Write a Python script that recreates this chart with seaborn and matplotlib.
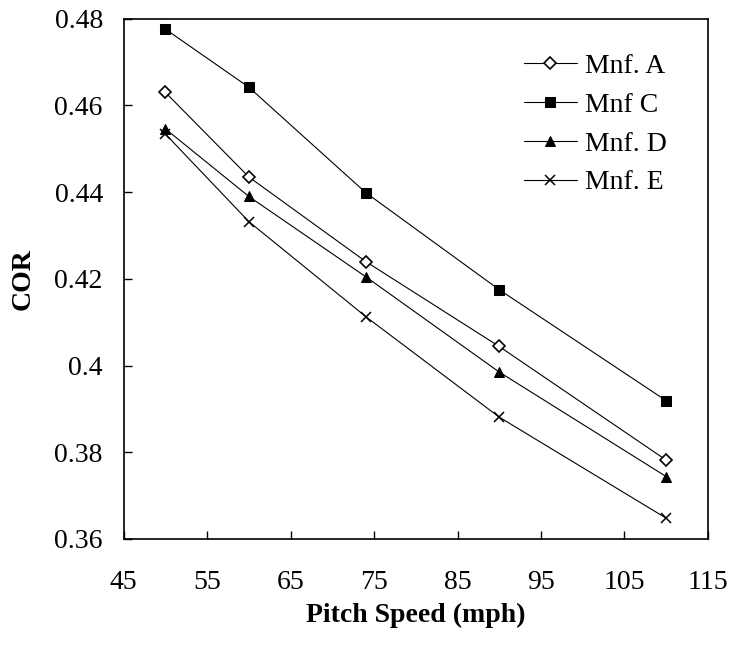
import matplotlib
matplotlib.use("Agg")
import matplotlib.pyplot as plt
import seaborn as sns
import pandas as pd
from matplotlib.ticker import FuncFormatter

speeds = [50, 60, 74, 90, 110]
mnf_a = [0.463, 0.4435, 0.424, 0.4044, 0.3782]
mnf_c = [0.4776, 0.4642, 0.4399, 0.4175, 0.3919]
mnf_d = [0.4546, 0.439, 0.4205, 0.3985, 0.3744]
mnf_e = [0.4534, 0.4332, 0.4113, 0.3881, 0.3648]
labels = ["Mnf. A", "Mnf C", "Mnf. D", "Mnf. E"]
x_ticks = [45, 55, 65, 75, 85, 95, 105, 115]
y_ticks = [0.36, 0.38, 0.40, 0.42, 0.44, 0.46, 0.48]

sns.set_theme(style="ticks")
plt.rcParams["font.family"] = ["Liberation Serif", "DejaVu Serif"]
plt.rcParams["text.color"] = "black"
plt.rcParams["axes.labelcolor"] = "black"
plt.rcParams["xtick.color"] = "black"
plt.rcParams["ytick.color"] = "black"

fig = plt.figure(figsize=(7.32, 6.47), dpi=100)
ax = fig.add_axes([0.169, 0.167, 0.798, 0.804])

series = [mnf_a, mnf_c, mnf_d, mnf_e]
styles = [
    dict(marker="D", markerfacecolor="white", markeredgecolor="black", markersize=6.5, markeredgewidth=1.2),
    dict(marker="s", markerfacecolor="black", markeredgecolor="black", markersize=6.7),
    dict(marker="^", markerfacecolor="black", markeredgecolor="black", markersize=7.5),
    dict(marker="x", markerfacecolor="black", markeredgecolor="black", markersize=7.5, markeredgewidth=1.1),
]
for vals, lab, st in zip(series, labels, styles):
    df = pd.DataFrame({"speed": speeds, "cor": vals})
    sns.lineplot(data=df, x="speed", y="cor", ax=ax, color="black", linewidth=0.8,
                 label=lab, **st)

ax.set_xlim(45, 115)
ax.set_ylim(0.36, 0.48)
ax.set_xticks(x_ticks)
ax.set_yticks(y_ticks)
ax.yaxis.set_major_formatter(FuncFormatter(lambda v, p: f"{v:g}"))
ax.tick_params(direction="in", length=6, width=1, labelsize=20, colors="black", labelcolor="black")
ax.tick_params(axis="y", pad=15)
ax.tick_params(axis="x", pad=22)
for s in ax.spines.values():
    s.set_color("black")
    s.set_linewidth(1.2)
ax.set_xlabel("Pitch Speed (mph)", fontsize=20, fontweight="bold", color="black")
ax.set_ylabel("COR", fontsize=20, fontweight="bold", va="center", color="black")
ax.xaxis.set_label_coords(0.5, -0.123)
ax.yaxis.set_label_coords(-0.172, 0.5)

leg = ax.legend(loc="upper left", bbox_to_anchor=(0.685, 0.933), frameon=False, fontsize=20,
                handlelength=1.9, handletextpad=0.3, labelspacing=0.48,
                borderaxespad=0, borderpad=0)
for t in leg.get_texts():
    t.set_color("black")

fig.savefig("out.png", dpi=100)
